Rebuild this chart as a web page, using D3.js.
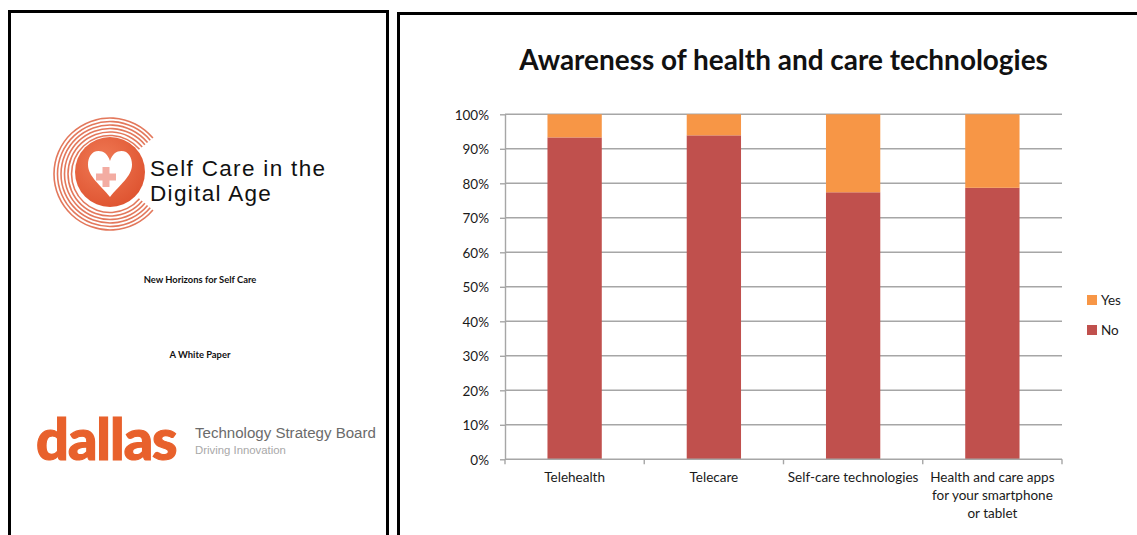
<!DOCTYPE html>
<html>
<head>
<meta charset="utf-8">
<script src="https://cdn.jsdelivr.net/npm/d3@7"></script>
<style>
  html, body { margin: 0; padding: 0; background: #ffffff; }
  svg { display: block; }
</style>
</head>
<body>
<svg id="root" width="1137" height="535"></svg>
<script>
// ---------------- DATA ----------------
const chartTitle = "Awareness of health and care technologies";
const categories = ["Telehealth", "Telecare", "Self-care technologies", "Health and care apps for your smartphone or tablet"];
const categoryLines = [
  ["Telehealth"],
  ["Telecare"],
  ["Self-care technologies"],
  ["Health and care apps", "for your smartphone", "or tablet"]
];
const seriesNames = ["No", "Yes"];
const noValues  = [93.3, 93.9, 77.4, 78.7];
const yesValues = [6.7, 6.1, 22.6, 21.3];
const yTickValues = [0, 10, 20, 30, 40, 50, 60, 70, 80, 90, 100];
const legendOrder = ["Yes", "No"];
const seriesColors = { No: "#c0504d", Yes: "#f79646" };

// cover page texts
const coverTitleLines = ["Self Care in the", "Digital Age"];
const coverSubtitle = "New Horizons for Self Care";
const coverKind = "A White Paper";
const sponsorLogo = "dallas";
const sponsorName = "Technology Strategy Board";
const sponsorTagline = "Driving Innovation";
const logoRingRadii = [38.5, 42, 45.5, 49, 52.5, 56];

// ---------------- HELPERS ----------------
const svg = d3.select("#root");
function fitWidth(sel, w) {
  const len = sel.node().getComputedTextLength();
  const fs = parseFloat(sel.attr("font-size"));
  sel.attr("font-size", fs * w / len);
  return sel;
}
function fitSpacing(sel, w) {
  const len = sel.node().getComputedTextLength();
  const n = sel.text().length;
  sel.attr("letter-spacing", (w - len) / Math.max(1, n - 1));
  return sel;
}

// ---------------- PANEL FRAMES ----------------
svg.append("rect").attr("x", 9.5).attr("y", 11.5).attr("width", 378).attr("height", 540)
  .attr("fill", "none").attr("stroke", "#000").attr("stroke-width", 3);
svg.append("rect").attr("x", 398.5).attr("y", 13.5).attr("width", 760).attr("height", 540)
  .attr("fill", "none").attr("stroke", "#000").attr("stroke-width", 3);

// ---------------- COVER PAGE ----------------
const cover = svg.append("g");
const logoC = [110, 174];
const ringArc = d3.arc();
const gap = 40 * Math.PI / 180;
logoRingRadii.forEach(r => {
  cover.append("path")
    .attr("transform", `translate(${logoC[0]},${logoC[1]})`)
    .attr("d", ringArc({ innerRadius: r - 0.8, outerRadius: r + 0.8,
      startAngle: Math.PI / 2 + gap, endAngle: Math.PI / 2 - gap + 2 * Math.PI }))
    .attr("fill", "#e3785c");
});
const grad = svg.append("defs").append("radialGradient").attr("id", "lg")
  .attr("cx", "40%").attr("cy", "35%").attr("r", "70%");
grad.append("stop").attr("offset", "0%").attr("stop-color", "#f07a55");
grad.append("stop").attr("offset", "100%").attr("stop-color", "#de5330");
cover.append("circle").attr("cx", logoC[0]).attr("cy", logoC[1] - 2).attr("r", 35)
  .attr("fill", "url(#lg)");
// heart
const hw = 44, hh = 46, hx = 110, hy = 151;
const heart = d3.path();
const P = (u, v) => [hx + u * hw, hy + v * hh];
heart.moveTo(...P(0, 0.22));
heart.bezierCurveTo(...P(-0.05, 0.06), ...P(-0.15, 0), ...P(-0.26, 0));
heart.bezierCurveTo(...P(-0.42, 0), ...P(-0.5, 0.14), ...P(-0.5, 0.3));
heart.bezierCurveTo(...P(-0.5, 0.55), ...P(-0.22, 0.74), ...P(0, 1));
heart.bezierCurveTo(...P(0.22, 0.74), ...P(0.5, 0.55), ...P(0.5, 0.3));
heart.bezierCurveTo(...P(0.5, 0.14), ...P(0.42, 0), ...P(0.26, 0));
heart.bezierCurveTo(...P(0.15, 0), ...P(0.05, 0.06), ...P(0, 0.22));
heart.closePath();
cover.append("path").attr("d", heart.toString()).attr("fill", "#ffffff");
// cross
const cxp = 106, cyp = 177;
cover.append("rect").attr("x", cxp - 3.5).attr("y", cyp - 10).attr("width", 7).attr("height", 20).attr("fill", "#f3aca2");
cover.append("rect").attr("x", cxp - 10).attr("y", cyp - 3.5).attr("width", 20).attr("height", 7).attr("fill", "#f3aca2");

// cover title: two lines
const ct1 = cover.append("text").attr("x", 150).attr("y", 175.5)
  .attr("font-family", "Liberation Sans, Arial, sans-serif")
  .attr("font-size", 22.5).attr("fill", "#111").text(coverTitleLines[0]);
fitSpacing(ct1, 175);
const ct2 = cover.append("text").attr("x", 150).attr("y", 200.5)
  .attr("font-family", "Liberation Sans, Arial, sans-serif")
  .attr("font-size", 22.5).attr("fill", "#111")
  .attr("letter-spacing", ct1.attr("letter-spacing")).text(coverTitleLines[1]);

const sub = cover.append("text").attr("x", 200).attr("y", 283).attr("text-anchor", "middle")
  .attr("font-family", "Lato, sans-serif").attr("font-weight", "bold").attr("font-size", 9)
  .attr("fill", "#111").text(coverSubtitle);
fitWidth(sub, 113);
cover.append("text").attr("x", 200).attr("y", 358).attr("text-anchor", "middle")
  .attr("font-family", "Lato, sans-serif").attr("font-weight", "bold").attr("font-size", sub.attr("font-size"))
  .attr("fill", "#111").text(coverKind);

const dal = cover.append("text").attr("x", 36).attr("y", 460)
  .attr("font-family", "Lato, sans-serif").attr("font-weight", 900).attr("font-size", 52)
  .attr("letter-spacing", -1).attr("fill", "#e8612c").attr("stroke", "#e8612c").attr("stroke-width", 1.2)
  .text(sponsorLogo);
fitWidth(dal, 140);
const tsb = cover.append("text").attr("x", 195).attr("y", 438)
  .attr("font-family", "Liberation Sans, Arial, sans-serif").attr("font-size", 15)
  .attr("fill", "#6b6b6b").text(sponsorName);
fitWidth(tsb, 181);
const tag = cover.append("text").attr("x", 195).attr("y", 454)
  .attr("font-family", "Liberation Sans, Arial, sans-serif").attr("font-size", 11)
  .attr("fill", "#a8a8a8").text(sponsorTagline);
fitWidth(tag, 91);

// ---------------- CHART ----------------
const chart = svg.append("g");
const plot = { left: 505, right: 1062, top: 114.3, bottom: 459.3 };

const x = d3.scaleBand().domain(categories).range([plot.left, plot.right])
  .paddingInner(0.61).paddingOuter(0.305);
const y = d3.scaleLinear().domain([0, 100]).range([plot.bottom, plot.top]);

const title = chart.append("text").attr("x", 783.5).attr("y", 70).attr("text-anchor", "middle")
  .attr("font-family", "Lato, sans-serif").attr("font-weight", "bold").attr("font-size", 24)
  .attr("fill", "#111").text(chartTitle);
fitWidth(title, 529);

// gridlines
chart.append("g").selectAll("line").data(yTickValues.filter(v => v > 0)).join("line")
  .attr("x1", plot.left).attr("x2", plot.right)
  .attr("y1", d => y(d)).attr("y2", d => y(d))
  .attr("stroke", "#a6a6a6").attr("stroke-width", 1.4);

// y axis
const yAxis = chart.append("g").attr("transform", `translate(${plot.left},0)`)
  .call(d3.axisLeft(y).tickValues(yTickValues).tickFormat(d => d + "%").tickSize(5).tickPadding(11).tickSizeOuter(0));
yAxis.select(".domain").attr("stroke", "#a6a6a6").attr("stroke-width", 1.4);
yAxis.selectAll(".tick line").attr("stroke", "#a6a6a6").attr("stroke-width", 1.4);
yAxis.selectAll(".tick text").attr("font-family", "Lato, sans-serif").attr("font-size", 13.5)
  .attr("fill", "#1a1a1a").attr("dy", "0.36em");

// bars (stacked)
const rows = categories.map((c, i) => ({ cat: c, No: noValues[i], Yes: yesValues[i] }));
const stacked = d3.stack().keys(seriesNames)(rows);
chart.append("g").selectAll("g").data(stacked).join("g")
  .attr("fill", d => seriesColors[d.key])
  .selectAll("rect").data(d => d).join("rect")
  .attr("x", d => x(d.data.cat))
  .attr("width", x.bandwidth())
  .attr("y", d => y(d[1]))
  .attr("height", d => y(d[0]) - y(d[1]));

// x axis line + boundary ticks
chart.append("line").attr("x1", plot.left).attr("x2", plot.right)
  .attr("y1", plot.bottom).attr("y2", plot.bottom)
  .attr("stroke", "#a6a6a6").attr("stroke-width", 1.4);
const bounds = d3.range(categories.length + 1).map(i => plot.left + i * x.step());
chart.append("g").selectAll("line").data(bounds).join("line")
  .attr("x1", d => d).attr("x2", d => d)
  .attr("y1", plot.bottom).attr("y2", plot.bottom + 5)
  .attr("stroke", "#a6a6a6").attr("stroke-width", 1.4);

// category labels
const catG = chart.append("g");
categories.forEach((c, i) => {
  const t = catG.append("text").attr("x", x(c) + x.bandwidth() / 2).attr("y", 482)
    .attr("text-anchor", "middle").attr("font-family", "Lato, sans-serif")
    .attr("font-size", 13.5).attr("fill", "#1a1a1a");
  categoryLines[i].forEach((ln, j) => {
    t.append("tspan").attr("x", x(c) + x.bandwidth() / 2).attr("dy", j === 0 ? 0 : 18).text(ln);
  });
});

// legend
const leg = chart.append("g");
legendOrder.forEach((k, i) => {
  const ly = 295 + i * 30;
  leg.append("rect").attr("x", 1087).attr("y", ly).attr("width", 10).attr("height", 10)
    .attr("fill", seriesColors[k]);
  leg.append("text").attr("x", 1101).attr("y", ly + 10)
    .attr("font-family", "Lato, sans-serif").attr("font-size", 13.5).attr("fill", "#1a1a1a").text(k);
});
</script>
</body>
</html>
